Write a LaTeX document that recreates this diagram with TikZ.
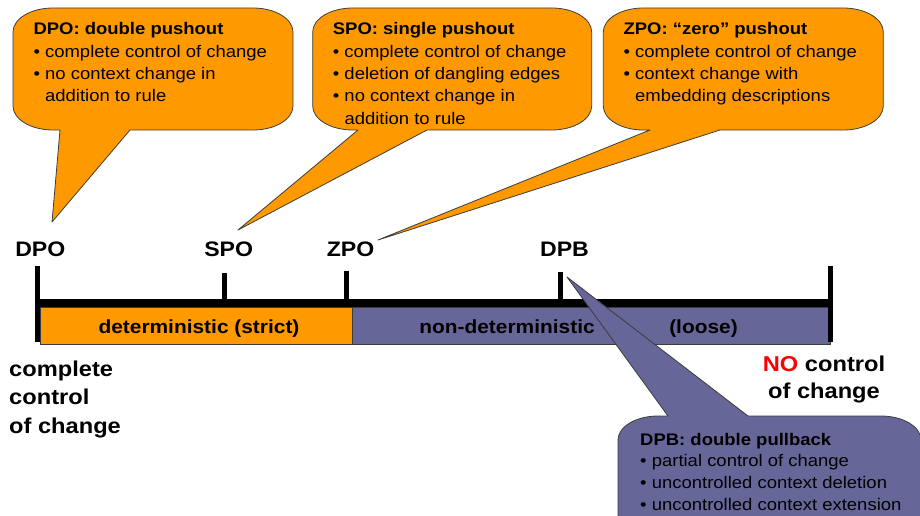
\documentclass[tikz,border=0pt]{standalone}
\usepackage{fontspec}
\setmainfont{Liberation Sans}[FakeStretch=1.1]
\definecolor{calloutorange}{RGB}{255,153,0}
\definecolor{calloutpurple}{RGB}{102,102,153}
\definecolor{outline}{RGB}{60,60,60}
\definecolor{alertred}{RGB}{255,0,0}

% callout body with its tail hanging below
% #1 left, #2 top, #3 right, #4 bottom, #5/#6 tail base, #7 tail tip, #8 fill
\newcommand{\calloutbelow}[8]{%
  \path[bubble, fill=#8]
    (#1,{-(#2)-24}) arc[start angle=180,end angle=90,x radius=40,y radius=24]
    -- ({#3-40},-#2) arc[start angle=90,end angle=0,x radius=40,y radius=24]
    -- (#3,{-(#4)+24}) arc[start angle=0,end angle=-90,x radius=40,y radius=24]
    -- (#6,-#4) -- (#7) -- (#5,-#4)
    -- ({#1+40},-#4) arc[start angle=-90,end angle=-180,x radius=40,y radius=24]
    -- cycle;}
% callout body with its tail rising above
\newcommand{\calloutabove}[8]{%
  \path[bubble, fill=#8]
    (#1,{-(#2)-24}) arc[start angle=180,end angle=90,x radius=40,y radius=24]
    -- (#5,-#2) -- (#7) -- (#6,-#2)
    -- ({#3-40},-#2) arc[start angle=90,end angle=0,x radius=40,y radius=24]
    -- (#3,{-(#4)+24}) arc[start angle=0,end angle=-90,x radius=40,y radius=24]
    -- ({#1+40},-#4) arc[start angle=-90,end angle=-180,x radius=40,y radius=24]
    -- cycle;}

\begin{document}
\begin{tikzpicture}[x=1pt,y=1pt,
  bubble/.style={draw=outline, line width=0.8pt, line join=round},
  bodytext/.style={anchor=base west, inner sep=0, align=left,
    font=\fontsize{16.8}{22.3}\selectfont},
  marklabel/.style={anchor=base, inner sep=0, font=\fontsize{21}{25}\selectfont\bfseries},
  barlabel/.style={anchor=base, inner sep=0, font=\fontsize{19}{22}\selectfont\bfseries},
  endlabel/.style={inner sep=0, font=\fontsize{21.5}{28.2}\selectfont\bfseries},
  barframe/.style={draw=outline, line width=0.6pt},
  axisline/.style={line width=8pt},
  tickline/.style={line width=5pt}]
\useasboundingbox (0,0) rectangle (920,-516);
\clip (0,0) rectangle (920,-516);

% scale: strict and loose parts
\filldraw[barframe, fill=calloutorange] (40,-307.3) rectangle (352,-344.3);
\filldraw[barframe, fill=calloutpurple] (352,-307.3) rectangle (830,-344.3);
\node[barlabel] (strict) at (199,-333) {deterministic (strict)};
\node[barlabel] (nondet) at (507,-333) {non-deterministic};
\node[barlabel] (loose) at (703.5,-333) {(loose)};

% axis and tick marks
\draw[axisline] (37.8,-303) -- (830.3,-303);
\draw[tickline] (37.8,-266) -- (37.8,-341.7);
\draw[tickline] (224.5,-272.7) -- (224.5,-303);
\draw[tickline] (346.7,-270.7) -- (346.7,-303);
\draw[tickline] (560,-271.7) -- (560,-303);
\draw[tickline] (830.3,-266) -- (830.3,-341.7);

% approach labels
\node[marklabel] (dpo) at (40.3,-256) {DPO};
\node[marklabel] (spo) at (228.7,-256) {SPO};
\node[marklabel] (zpo) at (350.5,-256) {ZPO};
\node[marklabel] (dpb) at (564.5,-256) {DPB};

% ends of the scale (anchored on the last line's baseline)
\node[endlabel, anchor=base west, align=left] (full) at (9,-433)
  {complete\\control\\of change};
\node[endlabel, anchor=base, align=center, font=\fontsize{21.5}{26.5}\selectfont\bfseries] (none) at (824,-398)
  {\textcolor{alertred}{NO} control\\of change};

% callout tips
\coordinate (dpotip) at (52,-222);
\coordinate (spotip) at (238,-230);
\coordinate (zpotip) at (378,-240);
\coordinate (dpbtip) at (567,-277);

% callouts
\calloutbelow{13}{8}{293}{130}{60}{130}{dpotip}{calloutorange}
\calloutbelow{312.7}{8}{591.7}{130}{358}{427}{spotip}{calloutorange}
\calloutbelow{603.3}{8}{883.3}{130}{650}{720}{zpotip}{calloutorange}
\calloutabove{618}{416}{921}{545}{668}{748}{dpbtip}{calloutpurple}

% callout texts (anchored on the last line's baseline)
\node[bodytext] (dpotext) at (33.3,-101.9)
  {\textbf{DPO: double pushout}\\• complete control of change\\• no context change in\\\phantom{•\ }addition to rule};
\node[bodytext] (spotext) at (332.7,-124.2)
  {\textbf{SPO: single pushout}\\• complete control of change\\• deletion of dangling edges\\• no context change in\\\phantom{•\ }addition to rule};
\node[bodytext] (zpotext) at (623.3,-101.9)
  {\textbf{ZPO: “zero” pushout}\\• complete control of change\\• context change with\\\phantom{•\ }embedding descriptions};
\node[bodytext, font=\fontsize{16.8}{21.7}\selectfont] (dpbtext) at (640,-510.1)
  {\textbf{DPB: double pullback}\\• partial control of change\\• uncontrolled context deletion\\• uncontrolled context extension};
\end{tikzpicture}
\end{document}
